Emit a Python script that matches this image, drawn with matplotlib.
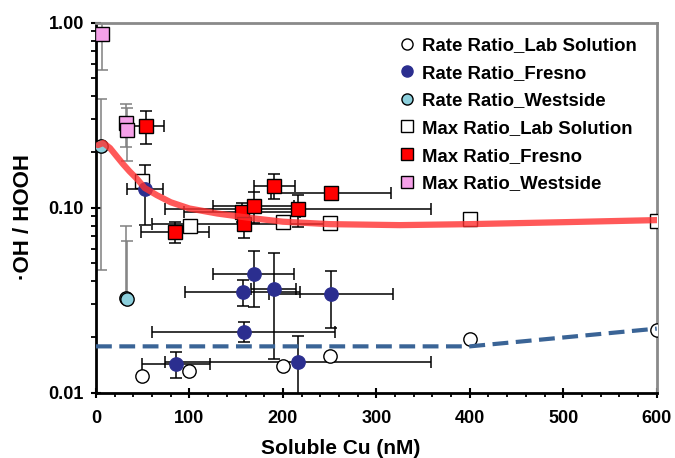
import numpy as np
import matplotlib
matplotlib.use("Agg")
import matplotlib.pyplot as plt
from matplotlib.lines import Line2D
from matplotlib.ticker import MultipleLocator, FixedLocator, LogLocator, NullFormatter

plt.rcParams['font.family'] = ['Liberation Sans', 'DejaVu Sans']
plt.rcParams['font.weight'] = 'bold'

# Rate Ratio_Lab Solution (open circles)
rate_lab_x = [49, 100, 200, 250, 400, 600]
rate_lab_y = [0.0123, 0.0131, 0.0139, 0.0157, 0.0194, 0.0218]

# Rate Ratio_Fresno (navy circles)
rate_fre_x = [52.5, 85.7, 156.8, 157.9, 168.6, 190, 216, 251.4]
rate_fre_y = [0.126, 0.0143, 0.0352, 0.0214, 0.0436, 0.0362, 0.0147, 0.034]
rate_fre_xerr = [19.5, 36.5, 62, 97.7, 43, 24, 142, 66.6]
rate_fre_yerr = [0.045, 0.0023, 0.0057, 0.0027, 0.0145, 0.021, 0.0056, 0.0115]

# Rate Ratio_Westside (light blue circles)
rate_wst_x = [5, 32, 33]
rate_wst_y = [0.216, 0.0324, 0.032]
rate_wst_yerr_lo = [0.17, 0, 0]
rate_wst_yerr_hi = [0.17, 0.047, 0.034]

# Max Ratio_Lab Solution (open squares)
max_lab_x = [49.6, 100.7, 200, 250, 400, 600]
max_lab_y = [0.139, 0.080, 0.0837, 0.0824, 0.0865, 0.085]

# Max Ratio_Fresno (red squares)
max_fre_x = [53, 84.6, 156.4, 157.9, 168.6, 190.7, 216, 251.8]
max_fre_y = [0.277, 0.0742, 0.095, 0.0814, 0.102, 0.1315, 0.098, 0.1196]
max_fre_xerr = [19.5, 36.5, 62, 97.7, 43, 22, 142, 64]
max_fre_yerr = [0.055, 0.0095, 0.0114, 0.013, 0.019, 0.02, 0.019, 0.004]

# Max Ratio_Westside (pink squares)
max_wst_x = [6, 32, 33]
max_wst_y = [0.865, 0.288, 0.263]
max_wst_yerr = [0.31, 0.075, 0.085]

# fitted curves
fit_max_x = [2, 8, 15, 22, 29, 36, 44, 52, 65, 80, 100, 130, 165, 200, 250, 325, 400, 500, 600]
fit_max_y = [0.218, 0.224, 0.21, 0.19, 0.172, 0.157, 0.143, 0.128, 0.117, 0.107, 0.099,
             0.093, 0.088, 0.084, 0.0815, 0.0805, 0.0815, 0.0835, 0.0857]
fit_rate_x = [0, 400, 600]
fit_rate_y = [0.0178, 0.0178, 0.0222]

navy = '#2b2e8f'
cyan = '#8ccfdc'
pink = '#f5a0e8'
ms = 9.6

fig = plt.figure(figsize=(6.75, 4.58), dpi=100)
ax = fig.add_axes([0.1422, 0.1426, 0.8307, 0.8078])

eb = dict(fmt='none', capsize=4.3, elinewidth=1.1, capthick=1.1, zorder=2)
ax.errorbar(rate_wst_x, rate_wst_y, yerr=[rate_wst_yerr_lo, rate_wst_yerr_hi], ecolor='#808080', **eb)
ax.errorbar(max_wst_x, max_wst_y, yerr=max_wst_yerr, ecolor='#808080', **eb)
ax.errorbar(rate_fre_x, rate_fre_y, xerr=rate_fre_xerr, yerr=rate_fre_yerr, ecolor='black', **eb)
ax.errorbar(max_fre_x, max_fre_y, xerr=max_fre_xerr, yerr=max_fre_yerr, ecolor='black', **eb)

mk = dict(linestyle='none', markersize=ms, markeredgewidth=1.0, markeredgecolor='black', zorder=3)
ax.plot(rate_lab_x, rate_lab_y, 'o', markerfacecolor='white', **mk)
ax.plot(max_lab_x, max_lab_y, 's', markerfacecolor='white', **mk)
ax.plot(max_wst_x, max_wst_y, 's', markerfacecolor=pink, **mk)
ax.plot(rate_wst_x, rate_wst_y, 'o', markerfacecolor=cyan, **mk)
ax.plot(max_fre_x, max_fre_y, 's', markerfacecolor='#ff0000', **mk)
ax.plot(rate_fre_x, rate_fre_y, 'o', markerfacecolor=navy, markeredgecolor=navy,
        linestyle='none', markersize=ms, zorder=3)

ax.plot(fit_max_x, fit_max_y, '-', color='#ff3030', alpha=0.8, linewidth=4.5,
        solid_capstyle='round', zorder=4)
ax.plot(fit_rate_x, fit_rate_y, color='#3a6496', linewidth=3, linestyle=(0, (3.8, 1.8)), zorder=4)

ax.set_yscale('log')
ax.set_xlim(0, 600)
ax.set_ylim(0.01, 1.0)
ax.xaxis.set_major_locator(MultipleLocator(100))
ax.xaxis.set_minor_locator(MultipleLocator(20))
ax.yaxis.set_major_locator(FixedLocator([0.01, 0.1, 1.0]))
ax.yaxis.set_minor_locator(LogLocator(base=10, subs=np.arange(2, 10)))
ax.yaxis.set_minor_formatter(NullFormatter())
ax.set_yticklabels(['0.01', '0.10', '1.00'])

ax.tick_params(axis='both', which='major', direction='inout', length=7.2, width=1.5,
               labelsize=13, colors='black')
ax.tick_params(axis='x', which='major', pad=9)
ax.tick_params(axis='y', which='major', pad=5)
ax.tick_params(axis='y', which='minor', direction='out', length=3.6, width=1.3)
ax.tick_params(axis='x', which='minor', direction='out', length=2.6, width=1.3)
ax.tick_params(top=False, right=False, which='both')

for side in ['left', 'bottom']:
    ax.spines[side].set_color('black')
    ax.spines[side].set_linewidth(2)
for side in ['top', 'right']:
    ax.spines[side].set_color('#8a8a8a')
    ax.spines[side].set_linewidth(2)

fig.text(341 / 675, 1 - 449 / 458, 'Soluble Cu (nM)', ha='center', va='center',
         fontsize=15, fontweight='bold')
fig.text(24 / 675, 1 - 217 / 458, '·OH / HOOH', ha='center', va='center',
         rotation=90, fontsize=16, fontweight='bold')

labels = ['Rate Ratio_Lab Solution', 'Rate Ratio_Fresno', 'Rate Ratio_Westside',
          'Max Ratio_Lab Solution', 'Max Ratio_Fresno', 'Max Ratio_Westside']
styles = [('o', 'white', 'black'), ('o', navy, navy), ('o', cyan, 'black'),
          ('s', 'white', 'black'), ('s', '#ff0000', 'black'), ('s', pink, 'black')]
handles = [Line2D([], [], linestyle='none', marker=m, markerfacecolor=fc, markeredgecolor=ec,
                  markersize=8, markeredgewidth=1.0) for m, fc, ec in styles]
fig.legend(handles, labels, loc='upper left', bbox_to_anchor=(399.5 / 675, 1 - 37 / 458),
           frameon=False, fontsize=13.4, handlelength=0.8, handletextpad=0.4,
           labelspacing=0.57, borderpad=0, borderaxespad=0)

fig.savefig('out.png', dpi=100)
